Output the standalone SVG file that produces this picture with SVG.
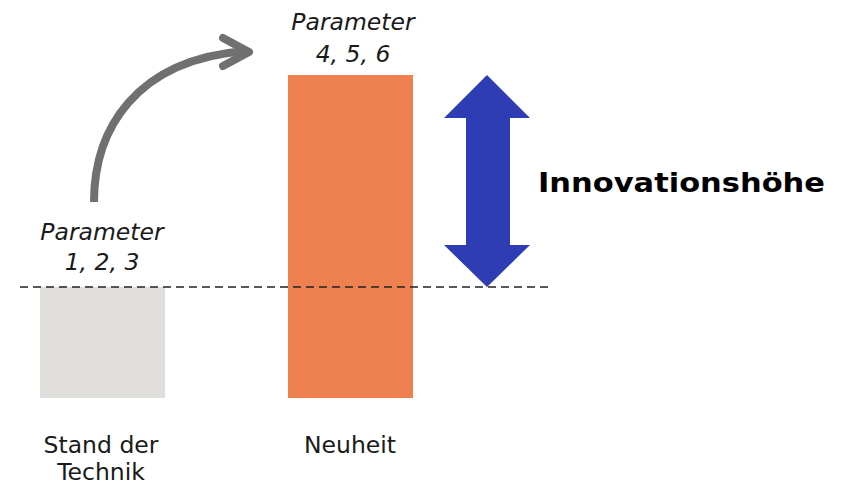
<svg xmlns="http://www.w3.org/2000/svg" width="846" height="485" viewBox="0 0 846 485">
  <defs>
    <style>
      .lbl { font-family: "DejaVu Sans", Verdana, sans-serif; font-size: 23.5px; fill: #1a1a1a; text-anchor: middle; }
      .it { font-style: italic; }
      .big { font-family: "DejaVu Sans", Verdana, sans-serif; font-size: 27px; font-weight: bold; fill: #000; }
    </style>
  </defs>
  <rect width="846" height="485" fill="#ffffff"/>

  <!-- prior art bar -->
  <g id="stand-der-technik">
    <rect x="40" y="287" width="125" height="111" fill="#e0dedb"/>
    <text class="lbl it" x="102" y="240">Parameter</text>
    <text class="lbl it" x="102" y="270">1, 2, 3</text>
    <text class="lbl" x="101" y="453">Stand der</text>
    <text class="lbl" x="101" y="480">Technik</text>
  </g>

  <!-- novelty bar -->
  <g id="neuheit">
    <rect x="288" y="75" width="125" height="323" fill="#ef8050"/>
    <text class="lbl it" x="353" y="30">Parameter</text>
    <text class="lbl it" x="353" y="62">4, 5, 6</text>
    <text class="lbl" x="350" y="453">Neuheit</text>
  </g>

  <!-- innovation height -->
  <g id="innovationshoehe">
    <polygon points="487,75 530,118 510,118 510,245 530,245 487,287 444,245 466,245 466,118 444,118" fill="#2e3db3"/>
    <text class="big" x="538" y="192" textLength="287" lengthAdjust="spacingAndGlyphs">Innovationshöhe</text>
  </g>

  <g id="connectors">
    <line x1="20" y1="287" x2="550" y2="287" stroke="#222" stroke-width="1.4" stroke-dasharray="8,5"/>
    <path d="M94,202 C94,130 135,60 245,51" fill="none" stroke="#707070" stroke-width="8"/>
    <polyline points="223,38 249,52 223,66" fill="none" stroke="#707070" stroke-width="8" stroke-linecap="round" stroke-linejoin="round"/>
  </g>
</svg>
